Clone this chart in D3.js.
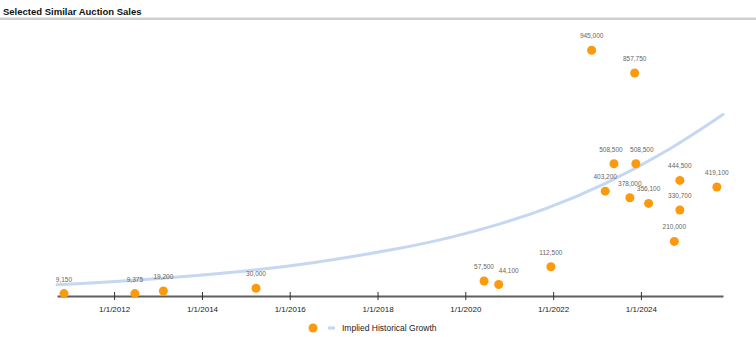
<!DOCTYPE html>
<html>
<head>
<meta charset="utf-8">
<script src="https://cdn.jsdelivr.net/npm/d3@7"></script>
<style>
  html, body { margin: 0; padding: 0; background: #fff; }
  svg { display: block; font-family: Arial, "Liberation Sans", sans-serif; }
</style>
</head>
<body>
<svg id="chart" width="756" height="337"></svg>
<script>
// ---- data ----
const saleDates = ["2010-11-10","2012-06-22","2013-02-14","2015-03-27","2020-06-05","2020-10-05",
  "2021-12-13","2022-11-17","2023-11-10","2023-05-22","2023-11-20","2023-03-10","2023-10-01",
  "2024-03-05","2024-11-20","2024-11-20","2024-10-05","2025-09-24"];
const saleValues = [9150, 9375, 19200, 30000, 57500, 44100, 112500, 945000, 857750, 508500, 508500,
  403200, 378000, 356100, 444500, 330700, 210000, 419100];
const growthDates = ["2010-09-13","2012-10-27","2015-02-03","2016-06-13","2018-07-01","2019-08-22",
  "2020-10-08","2021-10-20","2023-03-15","2024-09-12","2025-11-14"];
const growthValues = [43000, 63500, 96500, 124000, 181000, 223000, 275000, 331000, 429000, 565000, 698000];
const tickYears = [2012, 2014, 2016, 2018, 2020, 2022, 2024];
const titleText = "Selected Similar Auction Sales";
const legendLabel = "Implied Historical Growth";

const parse = d3.utcParse("%Y-%m-%d");
const svg = d3.select("#chart");

// label collision nudges (layout only)
const labelNudge = { 5: 10, 9: -3, 10: 6 };

// title + rule
svg.append("text").attr("x", 3).attr("y", 14.5)
  .attr("font-size", 9.5).attr("font-weight", "bold").attr("fill", "#111").text(titleText);
svg.append("rect").attr("x", 0).attr("y", 17.5).attr("width", 756).attr("height", 2.5).attr("fill", "#cfcfcf");

// scales
const x = d3.scaleUtc().domain([parse("2010-09-13"), parse("2025-11-14")]).range([57, 723]);
const y = d3.scaleLinear().domain([0, 1000000]).range([296, 36]);

// growth curve
const growth = growthDates.map((d, i) => ({ date: parse(d), value: growthValues[i] }));
svg.append("path").datum(growth)
  .attr("fill", "none").attr("stroke", "#c5d7f1").attr("stroke-width", 3)
  .attr("stroke-linecap", "round")
  .attr("d", d3.line().x(d => x(d.date)).y(d => y(d.value)).curve(d3.curveBasis));

// axis
const axis = d3.axisBottom(x)
  .tickValues(tickYears.map(yr => new Date(Date.UTC(yr, 0, 1))))
  .tickFormat(d3.utcFormat("%-m/%-d/%Y"))
  .tickSizeInner(4).tickSizeOuter(0);
const ag = svg.append("g").attr("transform", "translate(0,296)").call(axis);
ag.select(".domain").attr("stroke", "#5f5f5f").attr("stroke-width", 2);
ag.selectAll(".tick line").attr("y1", -4).attr("y2", 4).attr("stroke", "#333").attr("stroke-width", 1);
ag.selectAll(".tick text").attr("y", 16).attr("dy", 0)
  .attr("font-size", 8).attr("fill", "#222").attr("font-family", "Arial, 'Liberation Sans', sans-serif");

// points
const pts = saleDates.map((d, i) => ({ date: parse(d), value: saleValues[i], i }));
svg.append("g").selectAll("circle").data(pts).join("circle")
  .attr("cx", d => x(d.date)).attr("cy", d => y(d.value)).attr("r", 4.5)
  .attr("fill", "#fb9a0e");

const fmt = d3.format(",");
svg.append("g").selectAll("text").data(pts).join("text")
  .attr("x", d => x(d.date) + (labelNudge[d.i] || 0))
  .attr("y", d => y(d.value) - 12)
  .attr("text-anchor", "middle")
  .attr("font-size", 6.5).attr("fill", "#666")
  .attr("font-family", "Arial, 'Liberation Sans', sans-serif")
  .text(d => fmt(d.value));

// legend
const lg = svg.append("g");
lg.append("circle").attr("cx", 313).attr("cy", 328).attr("r", 4.5).attr("fill", "#fb9a0e");
lg.append("line").attr("x1", 328).attr("x2", 335).attr("y1", 328).attr("y2", 328)
  .attr("stroke", "#c5d7f1").attr("stroke-width", 3);
lg.append("text").attr("x", 342).attr("y", 331).attr("font-size", 8.5).attr("fill", "#222").text(legendLabel);
</script>
</body>
</html>
